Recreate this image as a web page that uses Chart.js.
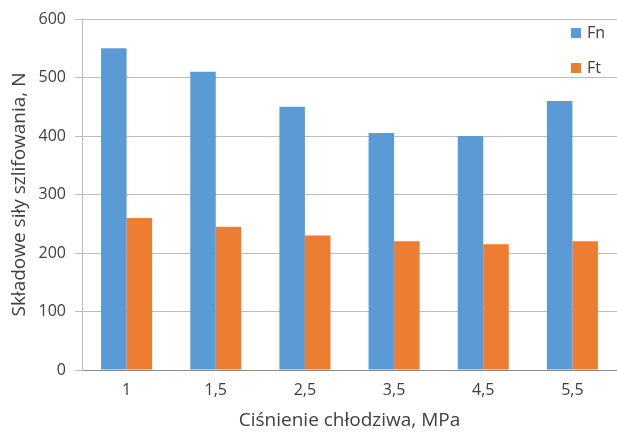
<!DOCTYPE html>
<html>
<head>
<meta charset="utf-8">
<script src="https://cdn.jsdelivr.net/npm/chart.js@4/dist/chart.umd.min.js"></script>
<style>
  html, body { margin: 0; padding: 0; background: #fff; }
  #wrap { width: 617px; height: 432px; }
</style>
</head>
<body>
<div id="wrap"><canvas id="c" width="617" height="432"></canvas></div>
<script>
// Coolant pressure (MPa) and grinding force components (N)
const pressures = ['1', '1,5', '2,5', '3,5', '4,5', '5,5'];
const fnValues = [550, 510, 450, 405, 400, 460];
const ftValues = [260, 245, 230, 220, 215, 220];
const yTicks = [0, 100, 200, 300, 400, 500, 600];

const FONT = '"Open Sans", "Liberation Sans", sans-serif';
const TEXT = '#404040';

// Legend drawn inside the plot area, top-right corner
const innerLegend = {
  id: 'innerLegend',
  afterDraw(chart) {
    const ctx = chart.ctx;
    const area = chart.chartArea;
    const x = area.right - 46;
    let y = area.top + 14;
    ctx.save();
    ctx.font = '16px ' + FONT;
    ctx.textBaseline = 'middle';
    ctx.textAlign = 'left';
    chart.data.datasets.forEach(ds => {
      ctx.fillStyle = ds.backgroundColor;
      ctx.fillRect(x, y - 5, 10, 10);
      ctx.fillStyle = TEXT;
      ctx.fillText(ds.label, x + 16, y);
      y += 35;
    });
    ctx.restore();
  }
};

new Chart(document.getElementById('c'), {
  type: 'bar',
  data: {
    labels: pressures,
    datasets: [
      { label: 'Fn', data: fnValues, backgroundColor: '#5B9BD5' },
      { label: 'Ft', data: ftValues, backgroundColor: '#ED7D31' }
    ]
  },
  options: {
    responsive: false,
    animation: false,
    devicePixelRatio: 1,
    layout: { padding: { top: 19, right: 0, left: 0, bottom: 0 } },
    datasets: { bar: { categoryPercentage: 0.572, barPercentage: 1.0 } },
    plugins: {
      legend: { display: false },
      tooltip: { enabled: false }
    },
    scales: {
      x: {
        grid: { display: false, drawTicks: false },
        border: { display: true, color: '#8c8c8c', width: 1 },
        ticks: { color: TEXT, font: { family: FONT, size: 16 }, padding: 11 },
        title: {
          display: true,
          text: 'Ciśnienie chłodziwa, MPa',
          color: TEXT,
          font: { family: FONT, size: 19 },
          padding: { top: 6, bottom: 0 }
        },
        afterFit(scale) { scale.height = 62; }
      },
      y: {
        min: 0,
        max: 600,
        afterBuildTicks(scale) { scale.ticks = yTicks.map(v => ({ value: v })); },
        grid: { color: '#bdbdbd', tickLength: 7, drawTicks: true },
        border: { display: true, color: '#bdbdbd' },
        ticks: { color: TEXT, font: { family: FONT, size: 16 }, padding: 9 },
        title: {
          display: true,
          text: 'Składowe siły szlifowania, N',
          color: TEXT,
          font: { family: FONT, size: 19 },
          padding: { top: 8, bottom: 4 }
        },
        afterFit(scale) { scale.width = 82; }
      }
    }
  },
  plugins: [innerLegend]
});
</script>
</body>
</html>
